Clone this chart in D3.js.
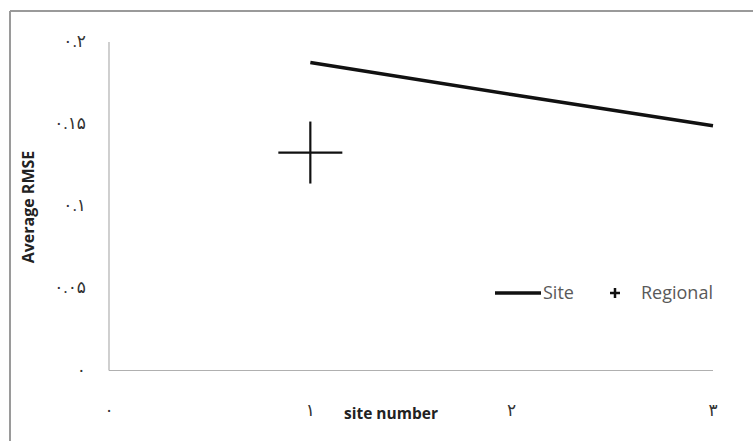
<!DOCTYPE html>
<html>
<head>
<meta charset="utf-8">
<script src="https://cdn.jsdelivr.net/npm/d3@7"></script>
<style>
  body { margin:0; background:#fff; }
  text { font-family: "Open Sans", "DejaVu Sans", sans-serif; }
</style>
</head>
<body>
<div id="chart"></div>
<script>
// data
var siteNumbers = [1, 2, 3];
var siteRmse = [0.1875, 0.168, 0.149];
var regionalSite = [1];
var regionalRmse = [0.1327];
var xTicks = [0, 1, 2, 3];
var yTicks = [0, 0.05, 0.1, 0.15, 0.2];
var xTickLabels = ["۰", "۱", "۲", "۳"];
var yTickLabels = ["۰", "۰.۰۵", "۰.۱", "۰.۱۵", "۰.۲"];

var width = 753, height = 441;
var margin = {left:109, right:40, top:42, bottom:70};

var svg = d3.select("#chart").append("svg")
    .attr("width", width).attr("height", height);

svg.append("rect").attr("width", width).attr("height", height).attr("fill", "#fff");

// frame (only top and left edges show in the crop)
svg.append("line").attr("x1", 10).attr("x2", width).attr("y1", 11).attr("y2", 11)
    .attr("stroke", "#9a9a9a").attr("stroke-width", 2);
svg.append("line").attr("x1", 10).attr("x2", 10).attr("y1", 11).attr("y2", height)
    .attr("stroke", "#9a9a9a").attr("stroke-width", 2);

var x = d3.scaleLinear().domain([0, 3]).range([margin.left, 713]);
var y = d3.scaleLinear().domain([0, 0.2]).range([370.5, margin.top]);

// axes
svg.append("line").attr("x1", x(0)).attr("x2", x(3)).attr("y1", y(0)).attr("y2", y(0))
    .attr("stroke", "#b0b0b0").attr("stroke-width", 1.2);
svg.append("line").attr("x1", x(0)).attr("x2", x(0)).attr("y1", y(0)).attr("y2", y(0.2))
    .attr("stroke", "#b0b0b0").attr("stroke-width", 1.2);

svg.selectAll(".ylab").data(yTicks).enter().append("text")
    .attr("x", 86).attr("y", function(d){ return y(d) + 5; })
    .attr("text-anchor", "end")
    .style("font-size", "17px").style("fill", "#333")
    .text(function(d, i){ return yTickLabels[i]; });

svg.selectAll(".xlab").data(xTicks).enter().append("text")
    .attr("x", function(d){ return x(d); }).attr("y", 416)
    .attr("text-anchor", "middle")
    .style("font-size", "17px").style("fill", "#333")
    .text(function(d, i){ return xTickLabels[i]; });

// axis titles
svg.append("text")
    .attr("transform", "translate(34,207) rotate(-90)")
    .attr("text-anchor", "middle")
    .style("font-size", "16px").style("font-weight", "bold").style("fill", "#222")
    .text("Average RMSE");
svg.append("text")
    .attr("x", 391).attr("y", 419)
    .attr("text-anchor", "middle")
    .style("font-size", "15.5px").style("font-weight", "bold").style("fill", "#222")
    .text("site number");

// site series
var line = d3.line()
    .x(function(d, i){ return x(siteNumbers[i]); })
    .y(function(d){ return y(d); });
svg.append("path").datum(siteRmse)
    .attr("d", line)
    .attr("fill", "none").attr("stroke", "#111").attr("stroke-width", 3.5);

// regional series (cross marker)
var arm = 32;
regionalRmse.forEach(function(v, i){
    var cx = x(regionalSite[i]), cy = y(v);
    svg.append("line").attr("x1", cx - arm).attr("x2", cx + arm).attr("y1", cy).attr("y2", cy)
        .attr("stroke", "#111").attr("stroke-width", 2.2);
    svg.append("line").attr("x1", cx).attr("x2", cx).attr("y1", cy - arm + 1).attr("y2", cy + arm - 1)
        .attr("stroke", "#111").attr("stroke-width", 2.2);
});

// legend
var lg = svg.append("g").attr("transform", "translate(0,293)");
lg.append("line").attr("x1", 495).attr("x2", 541).attr("y1", 0).attr("y2", 0)
    .attr("stroke", "#111").attr("stroke-width", 3.5);
lg.append("text").attr("x", 543).attr("y", 6)
    .style("font-size", "18px").style("fill", "#595959").text("Site");
lg.append("line").attr("x1", 610).attr("x2", 620).attr("y1", 0).attr("y2", 0)
    .attr("stroke", "#111").attr("stroke-width", 2.5);
lg.append("line").attr("x1", 615).attr("x2", 615).attr("y1", -5).attr("y2", 5)
    .attr("stroke", "#111").attr("stroke-width", 2.5);
lg.append("text").attr("x", 641).attr("y", 6)
    .style("font-size", "18px").style("fill", "#595959").text("Regional");
</script>
</body>
</html>
